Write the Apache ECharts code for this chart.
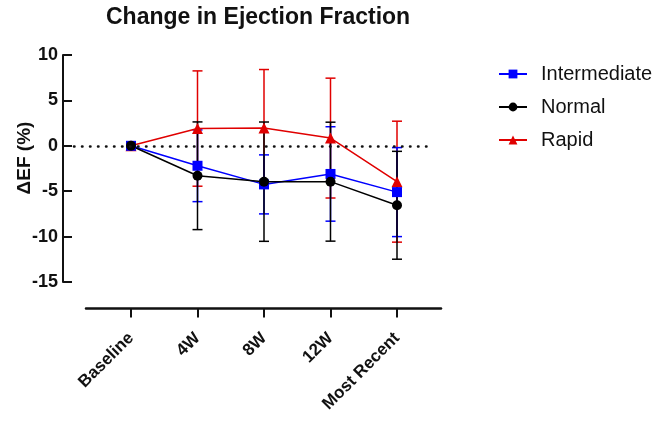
<!DOCTYPE html>
<html>
<head>
<meta charset="utf-8">
<script src="https://cdn.jsdelivr.net/npm/echarts@6/dist/echarts.min.js"></script>
<style>html,body{margin:0;padding:0;background:#fff}#c{width:662px;height:421px}</style>
</head>
<body>
<div id="c"></div>
<script>
const categories = ['Baseline', '4W', '8W', '12W', 'Most Recent'];
const seriesNames = ['Intermediate', 'Normal', 'Rapid'];
const intermediateMean = [0, -2.2, -4.25, -3.1, -5.1];
const intermediateSD = [0, 3.95, 3.25, 5.2, 4.9];
const normalMean = [0, -3.3, -3.95, -3.95, -6.55];
const normalSD = [0, 5.93, 6.57, 6.55, 5.94];
const rapidMean = [0, 1.9, 1.95, 0.85, -3.95];
const rapidSD = [0, 6.35, 6.45, 6.6, 6.66];
const yMin = -15, yMax = 10, yStep = 5;

const FONT = 'Liberation Sans, Arial, sans-serif';
const colors = { Intermediate: '#0000ff', Normal: '#000000', Rapid: '#e00000' };

function errData(mean, sd) {
  const out = [];
  mean.forEach((m, i) => { if (sd[i] > 0) out.push([i, m - sd[i], m + sd[i]]); });
  return out;
}
function errRender(color) {
  return function (params, api) {
    const x = api.value(0);
    const lo = api.coord([x, api.value(1)]);
    const hi = api.coord([x, api.value(2)]);
    const w = 5;
    const st = { stroke: color, lineWidth: 1.5 };
    return {
      type: 'group',
      children: [
        { type: 'line', shape: { x1: lo[0], y1: lo[1], x2: hi[0], y2: hi[1] }, style: st },
        { type: 'line', shape: { x1: lo[0] - w, y1: lo[1], x2: lo[0] + w, y2: lo[1] }, style: st },
        { type: 'line', shape: { x1: hi[0] - w, y1: hi[1], x2: hi[0] + w, y2: hi[1] }, style: st }
      ]
    };
  };
}
function errSeries(key, mean, sd) {
  return {
    type: 'custom', name: key + ' SD', xAxisIndex: 0, yAxisIndex: 0,
    renderItem: errRender(colors[key]), data: errData(mean, sd), silent: true,
    encode: { x: 0, y: [1, 2] }
  };
}
function lineSeries(key, mean, symbol) {
  return {
    type: 'line', name: key, xAxisIndex: 0, yAxisIndex: 0,
    data: mean, symbol: symbol, symbolSize: symbol === 'triangle' ? 11 : 10,
    lineStyle: { color: colors[key], width: 1.5 },
    itemStyle: { color: colors[key] },
    emphasis: { disabled: true }, animation: false
  };
}

const chart = echarts.init(document.getElementById('c'), null, { renderer: 'canvas' });
chart.setOption({
  animation: false,
  backgroundColor: '#fff',
  textStyle: { fontFamily: FONT },
  title: {
    text: 'Change in Ejection Fraction', left: 101, top: 1,
    textStyle: { fontFamily: FONT, fontWeight: 'bold', fontSize: 23, color: '#111' }
  },
  legend: {
    data: seriesNames, orient: 'vertical', left: 493, top: 59,
    itemWidth: 28, itemHeight: 11, itemGap: 13,
    textStyle: { fontFamily: FONT, fontSize: 20, color: '#111', lineHeight: 20, padding: [0, 0, 0, 9] }
  },
  graphic: [{
    type: 'text', x: 25, y: 158, rotation: Math.PI / 2,
    style: { text: 'ΔEF (%)', fontFamily: FONT, fontWeight: 'bold', fontSize: 19, fill: '#111', textAlign: 'center', textVerticalAlign: 'middle' }
  }],
  grid: [
    { left: 97.75, width: 332.5, top: 55, height: 227 },
    { left: 86, width: 355, top: 55, height: 227 },
    { left: 74, width: 360, top: 55, height: 227 }
  ],
  xAxis: [
    {
      gridIndex: 0, type: 'category', data: categories, boundaryGap: true, offset: 26.5,
      axisLine: { show: false, onZero: false },
      axisTick: { show: true, alignWithLabel: true, length: 9, lineStyle: { color: '#111', width: 2 } },
      axisLabel: { rotate: 45, margin: 27, fontFamily: FONT, fontWeight: 'bold', fontSize: 17, color: '#111', interval: 0 },
      splitLine: { show: false }
    },
    {
      gridIndex: 1, type: 'value', min: 0, max: 1, offset: 26.5,
      axisLine: { show: true, onZero: false, lineStyle: { color: '#111', width: 2.5 } },
      axisTick: { show: false }, axisLabel: { show: false }, splitLine: { show: false }
    },
    { gridIndex: 2, type: 'value', min: 0, max: 1, show: false, axisLine: { onZero: false } }
  ],
  yAxis: [
    {
      gridIndex: 0, type: 'value', min: yMin, max: yMax, interval: yStep, offset: 34.75,
      axisLine: { show: true, onZero: false, lineStyle: { color: '#111', width: 2 } },
      axisTick: { show: true, inside: true, length: 9, lineStyle: { color: '#111', width: 2 } },
      axisLabel: { margin: 5, fontFamily: FONT, fontWeight: 'bold', fontSize: 18, color: '#111' },
      splitLine: { show: false }
    },
    { gridIndex: 1, type: 'value', min: yMin, max: yMax, show: false, axisLine: { onZero: false } },
    { gridIndex: 2, type: 'value', min: yMin, max: yMax, show: false, axisLine: { onZero: false } }
  ],
  series: [
    {
      type: 'line', name: 'zero', xAxisIndex: 2, yAxisIndex: 2, data: [], silent: true,
      markLine: {
        silent: true, symbol: 'none', label: { show: false }, animation: false,
        lineStyle: { color: '#111', width: 2.5, type: [0.5, 7.5], cap: 'round' },
        data: [{ yAxis: 0 }]
      }
    },
    errSeries('Rapid', rapidMean, rapidSD),
    errSeries('Intermediate', intermediateMean, intermediateSD),
    errSeries('Normal', normalMean, normalSD),
    lineSeries('Rapid', rapidMean, 'triangle'),
    lineSeries('Intermediate', intermediateMean, 'rect'),
    lineSeries('Normal', normalMean, 'circle')
  ]
});
</script>
</body>
</html>
